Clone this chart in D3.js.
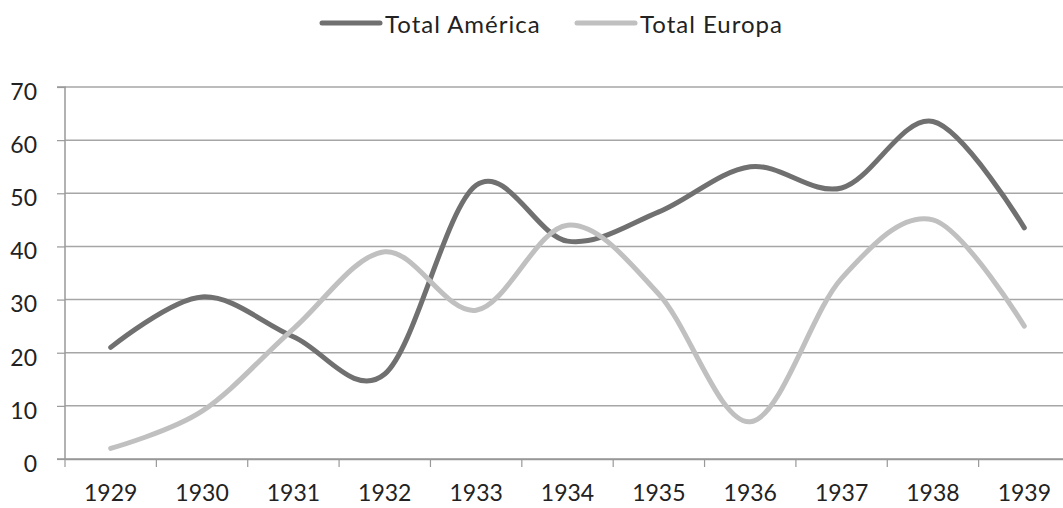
<!DOCTYPE html>
<html>
<head>
<meta charset="utf-8">
<script src="https://cdn.jsdelivr.net/npm/d3@7"></script>
<style>
  body { margin: 0; background: #fff; }
  svg text { font-family: Lato, "Open Sans", sans-serif; fill: #222; }
</style>
</head>
<body>
<div id="chart"></div>
<script>
// === data ===
var years = ["1929", "1930", "1931", "1932", "1933", "1934", "1935", "1936", "1937", "1938", "1939"];
var totalAmerica = [21, 30.5, 23, 16, 51.5, 41, 46.5, 55, 51, 63.5, 43.5];
var totalEuropa = [2, 9, 24.5, 39, 28, 44, 31, 7, 34, 45, 25];
var yTicks = [0, 10, 20, 30, 40, 50, 60, 70];
var seriesNames = ["Total América", "Total Europa"];
var seriesColors = ["#707070", "#c0c0c0"];

// === chart ===
var width = 1063, height = 508;
var svg = d3.select("#chart").append("svg")
    .attr("width", width)
    .attr("height", height);

var x = d3.scaleBand().domain(years).range([65, 1070]);
var y = d3.scaleLinear().domain([0, 70]).range([459, 87]);

// gridlines
svg.append("g")
    .selectAll("line")
    .data(yTicks.slice(1))
    .enter().append("line")
    .attr("x1", 65).attr("x2", width)
    .attr("y1", function (d) { return y(d); })
    .attr("y2", function (d) { return y(d); })
    .style("stroke", "#a6a6a6")
    .style("stroke-width", 1.5);

// y axis
var yAxis = svg.append("g")
    .attr("transform", "translate(65,0)")
    .call(d3.axisLeft(y).tickValues(yTicks).tickSize(8).tickPadding(20));
// x axis
var xAxis = svg.append("g")
    .attr("transform", "translate(0,459)")
    .call(d3.axisBottom(x).tickSize(0).tickPadding(26));

[yAxis, xAxis].forEach(function (ax) {
    ax.select(".domain").style("stroke", "#999").style("stroke-width", 1.5);
    ax.selectAll(".tick line").style("stroke", "#999").style("stroke-width", 1.2);
    ax.selectAll("text").style("font-size", "23px").style("fill", "#222");
});
yAxis.selectAll("text").attr("y", 5);
yAxis.select(".domain").attr("d", "M-8," + y(0) + "H0V" + y(70) + "H-8");

// category boundary ticks
var bounds = years.map(function (d) { return x(d); });
svg.append("g")
    .selectAll("line")
    .data(bounds)
    .enter().append("line")
    .attr("x1", function (d) { return d; })
    .attr("x2", function (d) { return d; })
    .attr("y1", 459).attr("y2", 467)
    .style("stroke", "#999")
    .style("stroke-width", 1.2);
svg.append("line")
    .attr("x1", 65).attr("x2", width)
    .attr("y1", 459).attr("y2", 459)
    .style("stroke", "#999").style("stroke-width", 1.5);

// lines
var line = d3.line()
    .x(function (d, i) { return x(years[i]) + x.bandwidth() / 2; })
    .y(function (d) { return y(d); })
    .curve(d3.curveCardinal.tension(0));

[totalAmerica, totalEuropa].forEach(function (s, i) {
    svg.append("path")
        .datum(s)
        .attr("d", line)
        .style("fill", "none")
        .style("stroke", seriesColors[i])
        .style("stroke-width", 5)
        .style("stroke-linecap", "round");
});

// legend
var legendX = [322, 577];
seriesNames.forEach(function (name, i) {
    var g = svg.append("g").attr("transform", "translate(" + legendX[i] + ",23)");
    g.append("line")
        .attr("x1", 0).attr("x2", 58)
        .attr("y1", 0).attr("y2", 0)
        .style("stroke", seriesColors[i])
        .style("stroke-width", 5)
        .style("stroke-linecap", "round");
    g.append("text")
        .attr("x", 63).attr("y", 10)
        .style("font-size", "24px")
        .style("letter-spacing", "1px")
        .text(name);
});
</script>
</body>
</html>
